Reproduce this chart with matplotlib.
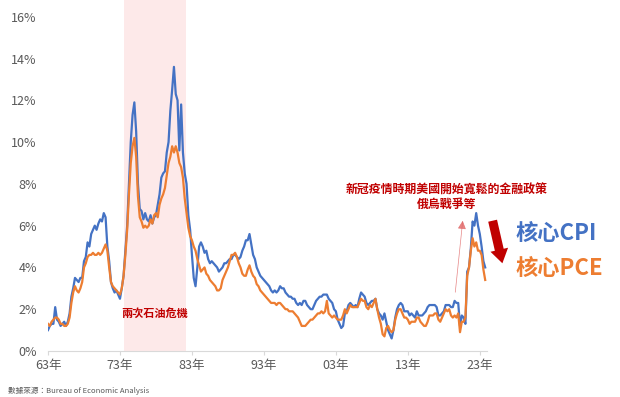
import matplotlib
matplotlib.use('Agg')
import matplotlib.pyplot as plt
from matplotlib.patches import FancyArrowPatch
import numpy as np

plt.rcParams['font.family'] = ['Noto Sans CJK TC', 'DejaVu Sans']

# 季度資料 (1963Q1 - 2023Q4), 年增率 %
core_cpi = [
    1.0, 1.2, 1.3, 1.3,   # 1963
    2.1, 1.5, 1.4, 1.2,   # 1964
    1.3, 1.4, 1.2, 1.4,   # 1965
    1.8, 2.6, 3.0, 3.5,   # 1966
    3.4, 3.3, 3.5, 3.5,   # 1967
    4.3, 4.5, 5.2, 5.0,   # 1968
    5.6, 5.8, 6.0, 5.8,   # 1969
    6.1, 6.3, 6.2, 6.6,   # 1970
    6.4, 5.0, 4.3, 3.3,   # 1971
    3.0, 2.8, 2.9, 2.7,   # 1972
    2.5, 3.0, 3.6, 4.8,   # 1973
    6.0, 8.0, 10.0, 11.3,  # 1974
    11.9, 10.5, 8.0, 6.8,  # 1975
    6.7, 6.3, 6.6, 6.3,   # 1976
    6.2, 6.5, 6.1, 6.4,   # 1977
    6.5, 7.0, 7.5, 8.3,   # 1978
    8.5, 8.6, 9.5, 10.0,  # 1979
    11.5, 12.5, 13.6, 12.3,  # 1980
    12.0, 9.6, 11.8, 9.5,  # 1981
    8.5, 8.0, 6.5, 5.8,   # 1982
    4.6, 3.5, 3.1, 4.0,   # 1983
    5.0, 5.2, 5.0, 4.7,   # 1984
    4.8, 4.4, 4.2, 4.3,   # 1985
    4.2, 4.1, 4.0, 3.8,   # 1986
    3.9, 4.0, 4.2, 4.2,   # 1987
    4.3, 4.4, 4.4, 4.6,   # 1988
    4.6, 4.5, 4.4, 4.5,   # 1989
    4.8, 5.0, 5.3, 5.3,   # 1990
    5.6, 5.1, 4.6, 4.4,   # 1991
    4.0, 3.8, 3.6, 3.5,   # 1992
    3.4, 3.3, 3.2, 3.1,   # 1993
    2.9, 2.8, 2.9, 2.8,   # 1994
    2.9, 3.1, 3.0, 3.0,   # 1995
    2.8, 2.7, 2.6, 2.6,   # 1996
    2.5, 2.5, 2.3, 2.2,   # 1997
    2.3, 2.2, 2.4, 2.4,   # 1998
    2.2, 2.1, 2.0, 2.0,   # 1999
    2.2, 2.4, 2.5, 2.6,   # 2000
    2.6, 2.7, 2.7, 2.7,   # 2001
    2.5, 2.4, 2.3, 2.0,   # 2002
    1.9, 1.5, 1.3, 1.1,   # 2003
    1.2, 1.8, 1.9, 2.2,   # 2004
    2.3, 2.2, 2.1, 2.2,   # 2005
    2.1, 2.5, 2.8, 2.7,   # 2006
    2.6, 2.3, 2.2, 2.3,   # 2007
    2.4, 2.4, 2.5, 2.0,   # 2008
    1.8, 1.7, 1.5, 1.8,   # 2009
    1.4, 1.0, 0.8, 0.6,   # 2010
    1.0, 1.6, 2.0, 2.2,   # 2011
    2.3, 2.2, 1.9, 1.9,   # 2012
    1.9, 1.7, 1.8, 1.7,   # 2013
    1.6, 1.9, 1.7, 1.7,   # 2014
    1.7, 1.8, 1.9, 2.1,   # 2015
    2.2, 2.2, 2.2, 2.2,   # 2016
    2.1, 1.7, 1.7, 1.8,   # 2017
    1.9, 2.2, 2.2, 2.2,   # 2018
    2.1, 2.1, 2.4, 2.3,   # 2019
    2.3, 1.2, 1.7, 1.6,   # 2020
    1.3, 3.8, 4.0, 4.9,   # 2021
    6.2, 6.0, 6.6, 6.0,   # 2022
    5.6, 5.0, 4.3, 4.0,   # 2023
]

core_pce = [
    1.3, 1.2, 1.4, 1.5,   # 1963
    1.6, 1.6, 1.5, 1.3,   # 1964
    1.3, 1.2, 1.2, 1.3,   # 1965
    1.6, 2.3, 2.8, 3.1,   # 1966
    2.9, 2.8, 3.0, 3.3,   # 1967
    4.0, 4.2, 4.5, 4.6,   # 1968
    4.6, 4.7, 4.6, 4.6,   # 1969
    4.7, 4.6, 4.7, 4.9,   # 1970
    5.1, 4.8, 4.0, 3.3,   # 1971
    3.1, 3.0, 2.9, 2.8,   # 1972
    2.7, 3.0, 3.6, 4.6,   # 1973
    5.8, 7.5, 9.0, 9.8,   # 1974
    10.2, 9.3, 7.4, 6.4,  # 1975
    6.2, 5.9, 6.0, 5.9,   # 1976
    6.0, 6.3, 6.1, 6.5,   # 1977
    6.6, 6.4, 7.0, 7.3,   # 1978
    7.5, 7.8, 8.4, 9.0,   # 1979
    9.3, 9.8, 9.5, 9.8,   # 1980
    9.5, 9.0, 8.8, 8.3,   # 1981
    7.3, 6.6, 5.9, 5.5,   # 1982
    5.3, 5.0, 4.8, 4.4,   # 1983
    4.1, 3.8, 3.9, 4.0,   # 1984
    3.7, 3.6, 3.4, 3.3,   # 1985
    3.2, 3.1, 2.9, 2.9,   # 1986
    3.0, 3.4, 3.6, 3.8,   # 1987
    4.0, 4.3, 4.6, 4.6,   # 1988
    4.7, 4.5, 4.2, 4.0,   # 1989
    3.7, 3.6, 3.6, 3.9,   # 1990
    4.1, 3.8, 3.6, 3.5,   # 1991
    3.2, 3.1, 2.9, 2.8,   # 1992
    2.7, 2.6, 2.5, 2.4,   # 1993
    2.3, 2.3, 2.3, 2.2,   # 1994
    2.3, 2.3, 2.2, 2.1,   # 1995
    2.0, 2.0, 1.9, 1.9,   # 1996
    1.9, 1.8, 1.7, 1.6,   # 1997
    1.4, 1.2, 1.2, 1.2,   # 1998
    1.3, 1.4, 1.5, 1.5,   # 1999
    1.6, 1.7, 1.8, 1.8,   # 2000
    1.9, 1.8, 1.9, 2.4,   # 2001
    1.8, 1.7, 1.6, 1.7,   # 2002
    1.6, 1.5, 1.5, 1.5,   # 2003
    1.7, 2.0, 1.8, 2.0,   # 2004
    2.2, 2.1, 2.1, 2.1,   # 2005
    2.1, 2.3, 2.5, 2.4,   # 2006
    2.4, 2.1, 2.0, 2.2,   # 2007
    2.1, 2.3, 2.5, 2.0,   # 2008
    1.6, 1.3, 0.8, 0.7,   # 2009
    1.1, 1.2, 1.0, 0.9,   # 2010
    1.0, 1.5, 1.8, 2.0,   # 2011
    2.0, 1.8, 1.6, 1.6,   # 2012
    1.5, 1.3, 1.4, 1.4,   # 2013
    1.4, 1.6, 1.6, 1.4,   # 2014
    1.3, 1.2, 1.2, 1.4,   # 2015
    1.7, 1.7, 1.7, 1.8,   # 2016
    1.8, 1.5, 1.4, 1.6,   # 2017
    1.8, 2.0, 1.9, 2.0,   # 2018
    1.7, 1.6, 1.7, 1.6,   # 2019
    1.8, 0.9, 1.4, 1.4,   # 2020
    1.6, 3.6, 4.0, 4.8,   # 2021
    5.4, 5.0, 5.2, 4.8,   # 2022
    4.8, 4.6, 3.9, 3.4,   # 2023
]

start_year = 1963
tick_years = [1963, 1973, 1983, 1993, 2003, 2013, 2023]
tick_labels = ['63年', '73年', '83年', '93年', '03年', '13年', '23年']
oil_crisis = (1973.6, 1982.2)

t = start_year + np.arange(len(core_cpi)) / 4.0

blue = '#4472C4'
orange = '#ED7D31'
red = '#C00000'
gray = '#595959'

fig = plt.figure(figsize=(6.2, 3.97), dpi=100)
ax = fig.add_axes([48/620, 1 - 351/397, (487 - 48)/620, 351/397])

ax.axvspan(*oil_crisis, color='#FDE9E9', zorder=0, lw=0)
ax.plot(t, core_cpi, color=blue, lw=1.6, zorder=3)
ax.plot(t, core_pce, color=orange, lw=1.6, zorder=4)

ax.set_xlim(1963, 2024)
ax.set_ylim(0, 16.8)
ax.set_yticks(range(0, 17, 2))
ax.set_yticklabels([f'{v}%' for v in range(0, 17, 2)], color=gray, fontsize=9)
ax.set_xticks(tick_years)
ax.set_xticklabels(tick_labels, color=gray, fontsize=9)
ax.tick_params(axis='y', length=0, pad=8)
ax.tick_params(axis='x', length=3, color='#D9D9D9', pad=3)
for s in ['top', 'right', 'left']:
    ax.spines[s].set_visible(False)
ax.spines['bottom'].set_color('#D9D9D9')

# 標註文字
fig.text(155/620, 1 - 313/397, '兩次石油危機', color=red, fontsize=8,
         fontweight='bold', ha='center', va='center')
fig.text(447/620, 1 - 190/397, '新冠疫情時期美國開始寬鬆的金融政策', color=red,
         fontsize=8.6, fontweight='bold', ha='center', va='center')
fig.text(447/620, 1 - 204/397, '俄烏戰爭等', color=red, fontsize=8.6,
         fontweight='bold', ha='center', va='center')

fig.text(516/620, 1 - 233/397, '核心CPI', color=blue, fontsize=16,
         fontweight='bold', ha='left', va='center')
fig.text(516/620, 1 - 268/397, '核心PCE', color=orange, fontsize=16,
         fontweight='bold', ha='left', va='center')

fig.text(8/620, 1 - 391/397, '數據來源：Bureau of Economic Analysis', color=gray,
         fontsize=5.5, ha='left', va='center')

# 箭頭
big = FancyArrowPatch((492/620, 1 - 218/397), (503/620, 1 - 266/397),
                      transform=fig.transFigure,
                      arrowstyle='simple,tail_width=0.65,head_width=1.3,head_length=1.0',
                      mutation_scale=10, color=red, lw=0)
fig.patches.append(big)
thin = FancyArrowPatch((455/620, 1 - 295/397), (463/620, 1 - 218/397),
                       transform=fig.transFigure,
                       arrowstyle='-|>,head_width=0.25,head_length=0.5',
                       mutation_scale=10, color='#E06666', lw=0.5, alpha=0.8)
fig.patches.append(thin)

fig.savefig('out.png', dpi=100)
